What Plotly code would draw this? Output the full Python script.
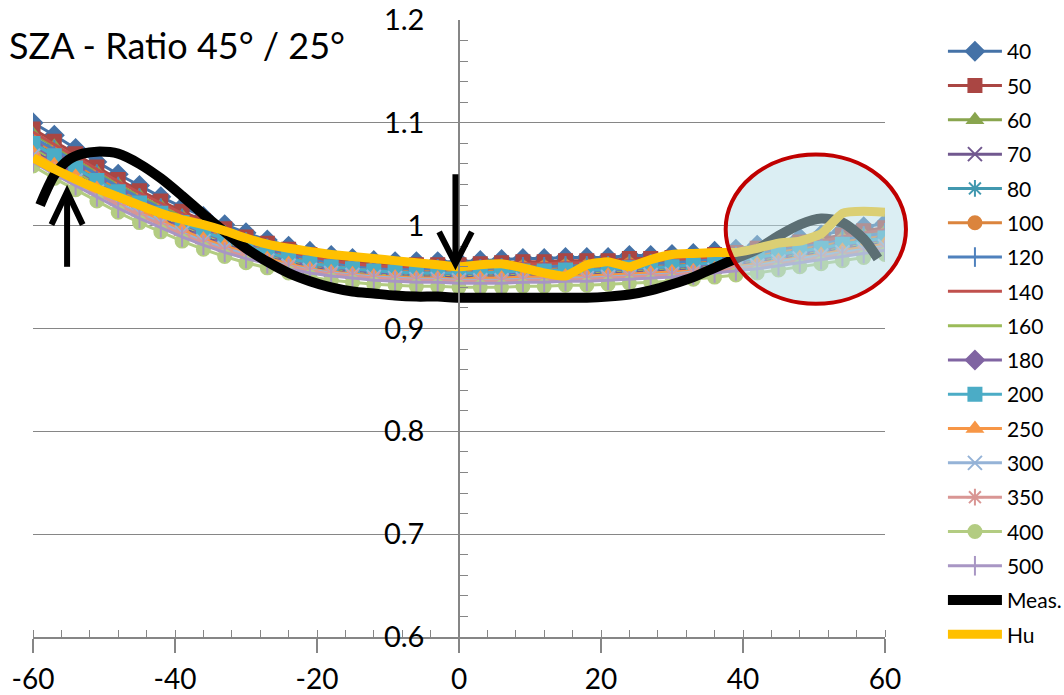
import plotly.graph_objects as go

# ---------------- data ----------------
angles = [-60, -57, -54, -51, -48, -45, -42, -39, -36, -33, -30, -27, -24, -21, -18, -15, -12, -9, -6, -3,
          0, 3, 6, 9, 12, 15, 18, 21, 24, 27, 30, 33, 36, 39, 42, 45, 48, 51, 54, 57, 60]

s40 = [1.100, 1.088, 1.075, 1.062, 1.050, 1.039, 1.028, 1.018, 1.009, 1.001, 0.993, 0.986, 0.980, 0.975, 0.971,
       0.968, 0.966, 0.965, 0.965, 0.965, 0.965, 0.966, 0.967, 0.968, 0.968, 0.969, 0.969, 0.969, 0.971, 0.971,
       0.972, 0.973, 0.975, 0.977, 0.981, 0.985, 0.988, 0.991, 0.995, 0.999, 1.002]
s50 = [1.094, 1.082, 1.070, 1.057, 1.045, 1.034, 1.024, 1.014, 1.005, 0.997, 0.989, 0.983, 0.977, 0.972, 0.968,
       0.965, 0.963, 0.962, 0.962, 0.962, 0.962, 0.963, 0.964, 0.965, 0.965, 0.966, 0.966, 0.966, 0.968, 0.968,
       0.969, 0.970, 0.972, 0.974, 0.978, 0.981, 0.984, 0.987, 0.991, 0.995, 0.998]
s60 = [1.089, 1.077, 1.064, 1.052, 1.040, 1.029, 1.019, 1.009, 1.001, 0.993, 0.986, 0.979, 0.973, 0.969, 0.965,
       0.962, 0.960, 0.959, 0.959, 0.959, 0.959, 0.959, 0.960, 0.961, 0.961, 0.962, 0.962, 0.962, 0.964, 0.964,
       0.965, 0.967, 0.969, 0.971, 0.974, 0.978, 0.981, 0.984, 0.988, 0.991, 0.994]
s70 = [1.073, 1.061, 1.050, 1.038, 1.027, 1.017, 1.007, 0.998, 0.989, 0.982, 0.976, 0.970, 0.965, 0.960, 0.957,
       0.955, 0.953, 0.952, 0.951, 0.951, 0.950, 0.951, 0.951, 0.952, 0.952, 0.953, 0.953, 0.954, 0.955, 0.956,
       0.957, 0.958, 0.960, 0.962, 0.965, 0.968, 0.971, 0.974, 0.978, 0.981, 0.984]
s80 = [1.081, 1.069, 1.057, 1.045, 1.034, 1.023, 1.013, 1.004, 0.995, 0.988, 0.981, 0.975, 0.969, 0.965, 0.961,
       0.959, 0.957, 0.956, 0.955, 0.955, 0.955, 0.955, 0.956, 0.957, 0.957, 0.958, 0.958, 0.958, 0.960, 0.960,
       0.961, 0.963, 0.965, 0.967, 0.970, 0.973, 0.976, 0.979, 0.983, 0.986, 0.989]
s100 = [1.084, 1.072, 1.060, 1.048, 1.036, 1.025, 1.015, 1.006, 0.997, 0.990, 0.983, 0.977, 0.971, 0.967, 0.963,
        0.960, 0.958, 0.957, 0.956, 0.956, 0.956, 0.957, 0.958, 0.959, 0.959, 0.960, 0.960, 0.960, 0.962, 0.962,
        0.963, 0.965, 0.967, 0.969, 0.972, 0.975, 0.978, 0.981, 0.985, 0.988, 0.991]
s120 = [1.086, 1.074, 1.062, 1.050, 1.038, 1.027, 1.017, 1.007, 0.999, 0.991, 0.984, 0.978, 0.972, 0.968, 0.964,
        0.961, 0.959, 0.958, 0.958, 0.958, 0.958, 0.958, 0.959, 0.960, 0.960, 0.961, 0.961, 0.961, 0.963, 0.963,
        0.964, 0.966, 0.968, 0.970, 0.973, 0.977, 0.980, 0.983, 0.987, 0.990, 0.993]
s140 = [1.091, 1.079, 1.067, 1.055, 1.043, 1.032, 1.022, 1.012, 1.003, 0.995, 0.988, 0.981, 0.975, 0.970, 0.966,
        0.963, 0.961, 0.960, 0.960, 0.960, 0.960, 0.961, 0.962, 0.963, 0.963, 0.964, 0.964, 0.964, 0.966, 0.966,
        0.967, 0.968, 0.970, 0.972, 0.976, 0.979, 0.982, 0.985, 0.989, 0.993, 0.996]
s160 = [1.076, 1.064, 1.053, 1.041, 1.030, 1.020, 1.010, 1.001, 0.992, 0.985, 0.978, 0.972, 0.967, 0.962, 0.959,
        0.956, 0.954, 0.953, 0.953, 0.953, 0.952, 0.953, 0.953, 0.954, 0.954, 0.955, 0.955, 0.956, 0.957, 0.958,
        0.959, 0.960, 0.962, 0.964, 0.967, 0.970, 0.973, 0.976, 0.980, 0.983, 0.986]
s180 = [1.078, 1.066, 1.055, 1.043, 1.032, 1.021, 1.011, 1.002, 0.993, 0.986, 0.979, 0.973, 0.968, 0.963, 0.960,
        0.957, 0.955, 0.954, 0.954, 0.954, 0.953, 0.954, 0.954, 0.955, 0.955, 0.956, 0.956, 0.957, 0.958, 0.959,
        0.960, 0.961, 0.963, 0.965, 0.968, 0.971, 0.974, 0.977, 0.981, 0.984, 0.987]
s200 = [1.080, 1.068, 1.056, 1.044, 1.033, 1.022, 1.012, 1.003, 0.994, 0.987, 0.980, 0.974, 0.968, 0.964, 0.960,
        0.958, 0.956, 0.955, 0.954, 0.954, 0.954, 0.954, 0.955, 0.956, 0.956, 0.957, 0.957, 0.957, 0.959, 0.959,
        0.960, 0.962, 0.964, 0.966, 0.969, 0.972, 0.975, 0.978, 0.982, 0.985, 0.988]
s250 = [1.071, 1.059, 1.048, 1.036, 1.025, 1.015, 1.005, 0.996, 0.987, 0.980, 0.974, 0.968, 0.963, 0.958, 0.955,
        0.953, 0.951, 0.950, 0.949, 0.949, 0.948, 0.949, 0.949, 0.950, 0.950, 0.951, 0.951, 0.952, 0.953, 0.954,
        0.955, 0.956, 0.958, 0.960, 0.963, 0.966, 0.969, 0.972, 0.976, 0.979, 0.982]
s300 = [1.068, 1.056, 1.044, 1.033, 1.022, 1.012, 1.003, 0.993, 0.985, 0.978, 0.972, 0.966, 0.961, 0.957, 0.954,
        0.952, 0.950, 0.949, 0.948, 0.948, 0.947, 0.947, 0.947, 0.948, 0.948, 0.949, 0.949, 0.950, 0.951, 0.952,
        0.953, 0.955, 0.957, 0.959, 0.961, 0.965, 0.968, 0.971, 0.974, 0.977, 0.980]
s350 = [1.066, 1.054, 1.042, 1.031, 1.020, 1.010, 1.001, 0.991, 0.983, 0.976, 0.970, 0.965, 0.960, 0.956, 0.953,
        0.951, 0.949, 0.948, 0.947, 0.947, 0.946, 0.946, 0.946, 0.947, 0.947, 0.948, 0.948, 0.949, 0.950, 0.951,
        0.952, 0.954, 0.956, 0.958, 0.960, 0.963, 0.966, 0.969, 0.972, 0.975, 0.978]
s400 = [1.058, 1.046, 1.035, 1.024, 1.013, 1.003, 0.994, 0.985, 0.977, 0.970, 0.964, 0.959, 0.954, 0.950, 0.947,
        0.945, 0.943, 0.942, 0.941, 0.941, 0.940, 0.940, 0.940, 0.941, 0.941, 0.942, 0.942, 0.943, 0.944, 0.945,
        0.946, 0.948, 0.950, 0.952, 0.954, 0.957, 0.960, 0.963, 0.966, 0.969, 0.972]
s500 = [1.062, 1.050, 1.039, 1.028, 1.017, 1.007, 0.998, 0.989, 0.981, 0.974, 0.968, 0.963, 0.958, 0.954, 0.951,
        0.949, 0.947, 0.946, 0.945, 0.945, 0.944, 0.944, 0.944, 0.945, 0.945, 0.946, 0.946, 0.947, 0.948, 0.949,
        0.950, 0.952, 0.954, 0.956, 0.958, 0.961, 0.964, 0.967, 0.970, 0.973, 0.976]

meas_x = [-59, -57, -55, -53, -51, -48, -45, -42, -39, -36, -33, -30, -27, -24, -21, -18, -15, -12, -9, -6, -3,
          0, 3, 6, 9, 12, 15, 18, 21, 24, 27, 30, 33, 36, 39, 42, 45, 48, 51, 54, 57, 59]
meas_y = [1.020, 1.049, 1.064, 1.070, 1.072, 1.070, 1.060, 1.046, 1.029, 1.011, 0.994, 0.978, 0.965, 0.954,
          0.946, 0.940, 0.936, 0.934, 0.932, 0.931, 0.931, 0.930, 0.930, 0.930, 0.930, 0.930, 0.930, 0.930, 0.931,
          0.933, 0.937, 0.943, 0.950, 0.959, 0.968, 0.977, 0.990, 1.001, 1.007, 1.003, 0.987, 0.968]

hu_y = [1.066, 1.055, 1.045, 1.036, 1.028, 1.020, 1.012, 1.006, 1.001, 0.995, 0.988, 0.982, 0.978, 0.975, 0.972,
        0.970, 0.968, 0.966, 0.964, 0.962, 0.960, 0.962, 0.963, 0.959, 0.954, 0.951, 0.962, 0.965, 0.960, 0.967,
        0.972, 0.973, 0.974, 0.974, 0.978, 0.983, 0.985, 0.992, 1.012, 1.014, 1.013]

series_names = ["40", "50", "60", "70", "80", "100", "120", "140", "160", "180", "200", "250", "300", "350",
                "400", "500"]
series_values = [s40, s50, s60, s70, s80, s100, s120, s140, s160, s180, s200, s250, s300, s350, s400, s500]
series_colors = ["#4572A7", "#AA4643", "#89A54E", "#71588F", "#4198AF", "#DB843D", "#4F81BD", "#C0504D",
                 "#9BBB59", "#8064A2", "#4BACC6", "#F79646", "#95B3D7", "#D99694", "#B3CC82", "#A896C4"]
series_symbols = ["diamond", "square", "triangle-up", "x-thin-open", "asterisk-open", "circle", "line-ns-open",
                  None, None, "diamond", "square", "triangle-up", "x-thin-open", "asterisk-open", "circle",
                  "line-ns-open"]

y_tickvals = [0.6, 0.7, 0.8, 0.9, 1.0, 1.1, 1.2]
y_ticktext = ["0.6", "0.7", "0.8", "0,9", "1", "1.1", "1.2"]
x_tickvals = [-60, -40, -20, 0, 20, 40, 60]
x_ticktext = ["-60", "-40", "-20", "0", "20", "40", "60"]

FONT = "Lato, 'Open Sans', sans-serif"
GRID = "#868686"

fig = go.Figure()
for i, (name, vals, col, sym) in enumerate(zip(series_names, series_values, series_colors, series_symbols)):
    if sym is None:
        fig.add_trace(go.Scatter(x=angles, y=vals, name=name, mode="lines", line=dict(color=col, width=3),
                                 legendgroup="g%d" % i))
    else:
        size = 13
        if sym in ("diamond", "x-thin-open", "asterisk-open", "line-ns-open"):
            size = 14
        fig.add_trace(go.Scatter(
            x=angles, y=vals, name=name, mode="lines+markers",
            line=dict(color=col, width=3),
            marker=dict(symbol=sym, size=size, color=col, line=dict(color=col, width=2)),
            legendgroup="g%d" % i))

fig.add_trace(go.Scatter(x=meas_x, y=meas_y, name="Meas.", mode="lines",
                         line=dict(color="#000000", width=10, shape="spline", smoothing=0.8),
                         legendgroup="gm"))
fig.add_trace(go.Scatter(x=angles, y=hu_y, name="Hu", mode="lines",
                         line=dict(color="#FFC000", width=9, shape="spline", smoothing=0.4),
                         legendgroup="gh"))

shapes = [
    # highlight ellipse (paper coords so it is not clipped)
    dict(type="circle", xref="paper", yref="paper", x0=0.813, x1=1.0246, y0=0.540, y1=0.782,
         fillcolor="rgba(183,222,232,0.5)", line=dict(color="#C00000", width=4), layer="above"),
    # up arrow
    dict(type="path", xref="x", yref="y", path="M -55.2,0.960 L -55.2,1.030",
         line=dict(color="black", width=6), layer="above"),
    dict(type="path", xref="x", yref="y", path="M -57.4,1.001 L -55.2,1.033 L -53.0,1.001",
         line=dict(color="black", width=6), layer="above"),
    # down arrow
    dict(type="path", xref="x", yref="y", path="M -0.5,1.050 L -0.5,0.966",
         line=dict(color="black", width=6), layer="above"),
    dict(type="path", xref="x", yref="y", path="M -2.8,0.994 L -0.5,0.963 L 1.8,0.994",
         line=dict(color="black", width=6), layer="above"),
]

fig.update_layout(
    width=1064, height=695,
    margin=dict(l=33, r=179, t=20, b=58, autoexpand=False),
    paper_bgcolor="white", plot_bgcolor="white",
    font=dict(family=FONT, color="black"),
    showlegend=True,
    legend=dict(x=1.068, xanchor="left", y=0.982, yanchor="top", font=dict(size=21, family=FONT),
                traceorder="grouped", tracegroupgap=4, itemwidth=54, bgcolor="rgba(0,0,0,0)",
                maxheight=690),
    xaxis=dict(range=[-60, 60], tickvals=x_tickvals, ticktext=x_ticktext, showgrid=False, zeroline=False,
               showline=True, linecolor=GRID, linewidth=1.5, automargin=False,
               ticks="outside", ticklen=14, tickcolor=GRID, tickwidth=1.5,
               minor=dict(dtick=4, ticks="inside", ticklen=7, tickcolor=GRID, tickwidth=1),
               tickfont=dict(size=28, family=FONT), ticklabelstandoff=3),
    yaxis=dict(range=[0.6, 1.2], tickvals=y_tickvals, ticktext=y_ticktext,
               anchor="free", position=0.5, showgrid=True, gridcolor=GRID, gridwidth=1,
               zeroline=False, showline=True, linecolor=GRID, linewidth=1.5, automargin=False,
               ticks="inside", ticklen=8, tickcolor=GRID, tickwidth=1,
               minor=dict(dtick=0.02, ticks="inside", ticklen=8, tickcolor=GRID, tickwidth=1, showgrid=False),
               tickfont=dict(size=29, family=FONT), ticklabelstandoff=28),
    shapes=shapes,
    annotations=[dict(text="SZA - Ratio 45° / 25°", xref="paper", yref="paper", x=-0.030, y=0.9595,
                      xanchor="left", yanchor="middle", showarrow=False,
                      font=dict(size=36, family=FONT, color="black"))],
)

fig.write_html("out.html")
